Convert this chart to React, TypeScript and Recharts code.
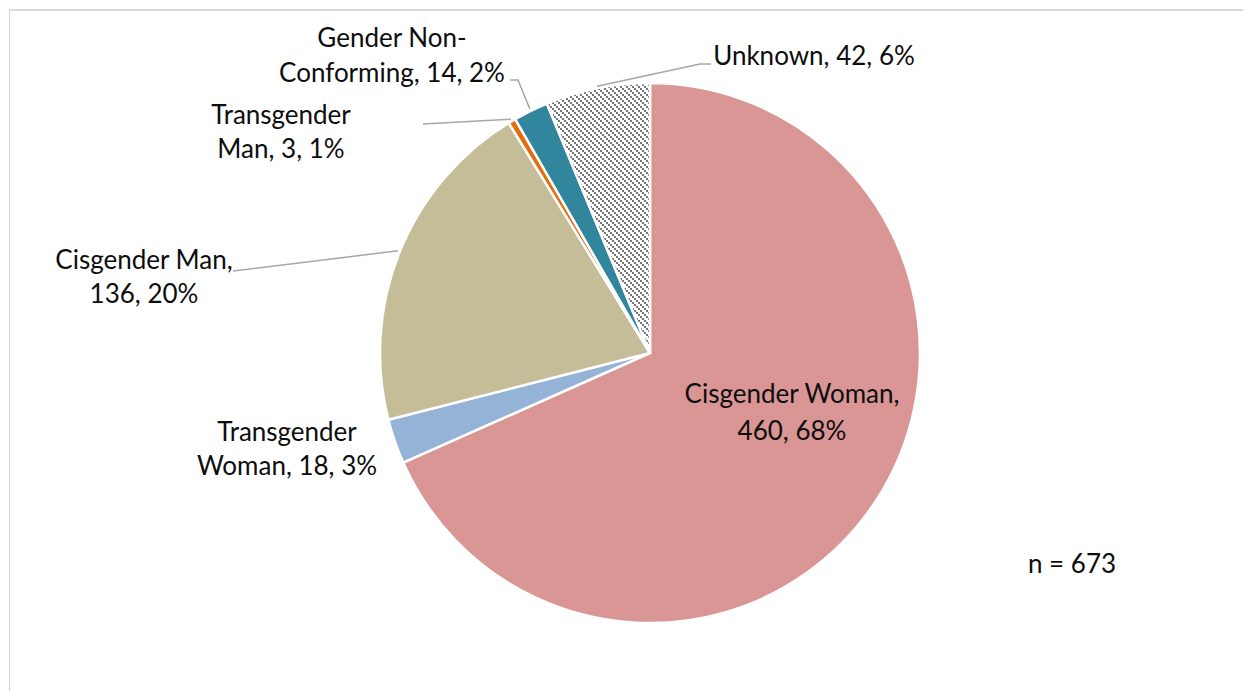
import React from "react";
import { PieChart, Pie, Cell } from "recharts";

const categories = [
  "Cisgender Woman",
  "Transgender Woman",
  "Cisgender Man",
  "Transgender Man",
  "Gender Non-Conforming",
  "Unknown",
];
const counts = [460, 18, 136, 3, 14, 42];
const percentLabels = ["68%", "3%", "20%", "1%", "2%", "6%"];
const sliceColors = ["#D99694", "#95B3D7", "#C4BD97", "#E46C0A", "#31859C", "url(#unknownHatch)"];
const firstLineTokens = [2, 1, 2, 1, 2, 99];
const sampleNote = "n = 673";

// label layout, offsets relative to pie centre
const labelLayout = [
  { x: 142, baselines: [50, 87], leader: [] as number[][] },
  { x: -363, baselines: [88, 122], leader: [] as number[][] },
  { x: -506, baselines: [-84, -50], leader: [[-417, -82]] },
  { x: -369, baselines: [-229, -195], leader: [[-227, -229]] },
  { x: -258, baselines: [-306, -271], leader: [[-132, -273], [-140, -273]] },
  { x: 164, baselines: [-288], leader: [[50, -289], [61, -289]] },
];

const data = categories.map((name, i) => ({ name, value: counts[i] }));

const FONT = "Lato, 'Noto Sans', sans-serif";
const FONT_SIZE = 26;
const RAD = Math.PI / 180;

function splitLines(i: number): string[] {
  const full = `${categories[i]}, ${counts[i]}, ${percentLabels[i]}`;
  const tokens = full.split(/(?<=[ -])/);
  const n = firstLineTokens[i];
  if (n >= tokens.length) return [full];
  return [tokens.slice(0, n).join("").trim(), tokens.slice(n).join("").trim()];
}

const renderLabel = (props: any) => {
  const { cx, cy, midAngle, outerRadius, index } = props;
  const layout = labelLayout[index];
  const lines = splitLines(index);
  const r = outerRadius + 2;
  const sx = cx + r * Math.cos(-midAngle * RAD);
  const sy = cy + r * Math.sin(-midAngle * RAD);
  const pts = [[sx, sy], ...layout.leader.map(([dx, dy]) => [cx + dx, cy + dy])];
  return (
    <g key={`lbl-${index}`}>
      {layout.leader.length > 0 && (
        <polyline
          points={pts.map((p) => p.join(",")).join(" ")}
          fill="none"
          stroke="#a6a6a6"
          strokeWidth={1.5}
        />
      )}
      {lines.map((t, li) => (
        <text
          key={li}
          x={cx + layout.x}
          y={cy + layout.baselines[li]}
          textAnchor="middle"
          fontFamily={FONT}
          fontSize={FONT_SIZE}
          fill="#0d0d0d"
        >
          {t}
        </text>
      ))}
    </g>
  );
};

export default function App() {
  return (
    <div
      style={{
        position: "absolute",
        left: 0,
        top: 0,
        width: 1243,
        height: 691,
        overflow: "hidden",
        background: "#fff",
      }}
    >
      <div
        style={{
          position: "absolute",
          left: 9,
          top: 9,
          width: 1300,
          height: 800,
          borderTop: "2px solid #d9d9d9",
          borderLeft: "1px solid #d4d4d4",
        }}
      />
      <svg width={0} height={0} style={{ position: "absolute" }}>
        <defs>
          <pattern id="unknownHatch" patternUnits="userSpaceOnUse" width={6} height={6}>
            <rect x={0} y={0} width={6} height={6} fill="#ffffff" />
            <rect x={0} y={0} width={2} height={2} fill="#767676" />
            <rect x={2} y={2} width={2} height={2} fill="#767676" />
            <rect x={4} y={4} width={2} height={2} fill="#767676" />
          </pattern>
        </defs>
      </svg>
      <div style={{ position: "absolute", left: 0, top: 0 }}>
        <PieChart width={1243} height={691} margin={{ top: 0, right: 0, bottom: 0, left: 0 }}>
          <Pie
            data={data}
            dataKey="value"
            nameKey="name"
            cx={650}
            cy={353}
            outerRadius={270}
            startAngle={90}
            endAngle={-270}
            stroke="#ffffff"
            strokeWidth={2.5}
            label={renderLabel}
            labelLine={false}
            isAnimationActive={false}
          >
            {data.map((d, i) => (
              <Cell key={d.name} fill={sliceColors[i]} />
            ))}
          </Pie>
        </PieChart>
      </div>
      <svg
        width={1243}
        height={691}
        style={{ position: "absolute", left: 0, top: 0, pointerEvents: "none" }}
      >
        <text x={1072} y={573} textAnchor="middle" fontFamily={FONT} fontSize={FONT_SIZE} fill="#0d0d0d">
          {sampleNote}
        </text>
      </svg>
    </div>
  );
}
